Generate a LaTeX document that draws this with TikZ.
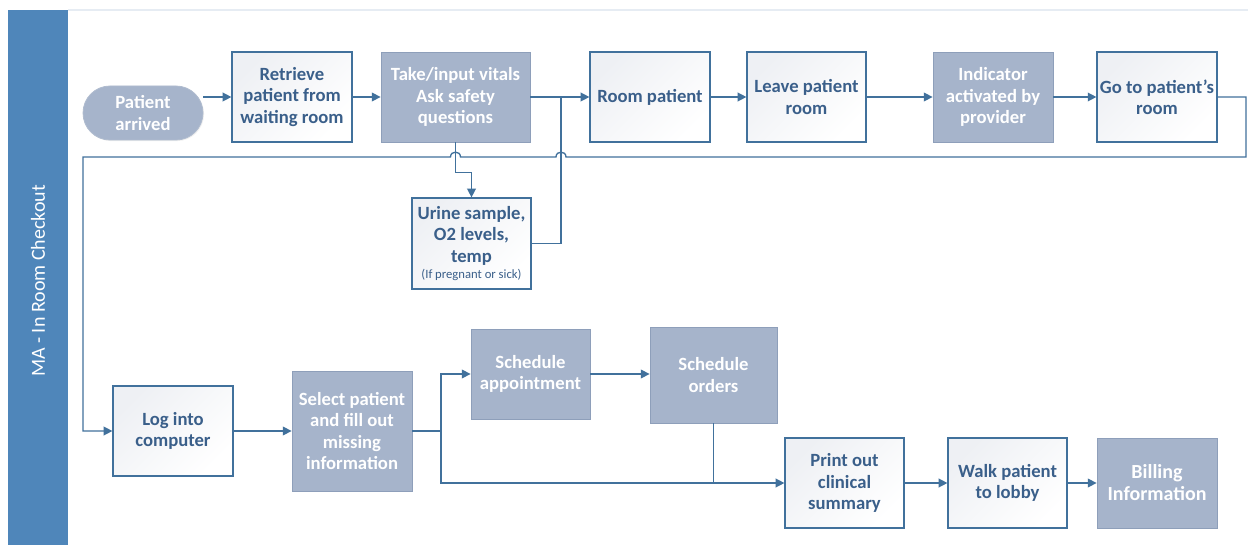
\documentclass[tikz,border=0pt]{standalone}
\usepackage{fontspec}
\setmainfont{Carlito}
\usetikzlibrary{arrows.meta,shapes.misc,shadows}

\definecolor{lanefill}{HTML}{4F86BA}
\definecolor{lanerule}{HTML}{E6ECF3}
\definecolor{stepgray}{HTML}{A6B4CB}
\definecolor{stepgrayedge}{HTML}{8E9FBA}
\definecolor{stepblue}{HTML}{41719C}
\definecolor{steptext}{HTML}{3A5F8A}
\definecolor{stepshade}{HTML}{EEF0F4}
\definecolor{flowline}{HTML}{41719C}

\tikzset{
  boxsize/.style 2 args={minimum width=#1*0.75pt, minimum height=#2*0.75pt},
  stepfont/.style={font=\fontsize{14}{16}\selectfont\bfseries},
  whitebox/.style={rectangle, draw=stepblue, line width=0.9pt, inner sep=0pt,
    left color=stepshade, right color=white, shading angle=45,
    text=steptext, align=center, stepfont},
  graybox/.style={rectangle, draw=stepgrayedge, line width=0.6pt, fill=stepgray,
    inner sep=0pt, text=white, align=center, stepfont,
    drop shadow={shadow xshift=0.8pt, shadow yshift=-0.8pt, opacity=0.12}},
  terminal/.style={rounded rectangle, draw=stepgrayedge!70, line width=0.6pt,
    fill=stepgray, inner sep=0pt, text=white, align=center, stepfont,
    drop shadow={shadow xshift=0.8pt, shadow yshift=-0.8pt, opacity=0.12}},
  link/.style={draw=flowline, line width=1pt},
  flow/.style={link, -{Triangle[length=6.5pt, width=6.5pt]}},
  lanelabel/.style={text=white, rotate=90, font=\fontsize{15}{17}\selectfont},
}

\begin{document}
\begin{tikzpicture}[x=0.75pt, y=-0.75pt]
\useasboundingbox (0,0) rectangle (1248,545);
\fill[white] (0,0) rectangle (1248,545);

% swimlane
\draw[lanerule, line width=1pt] (68,10) -- (1248,10);
\fill[lanefill] (8,10) rectangle (68,545);
\node[lanelabel] (lanetitle) at (38,281) {MA - In Room Checkout};

% upper row
\node[terminal, boxsize={120}{54}] (arrived) at (143,113) {Patient\\arrived};
\node[whitebox, boxsize={120}{90}] (retrieve) at (292,97) {Retrieve\\patient from\\waiting room};
\node[graybox, boxsize={149}{90}] (take) at (455.5,97) {Take/input vitals\\Ask safety\\questions};
\node[whitebox, boxsize={120}{90}] (room) at (650,97) {Room patient};
\node[whitebox, boxsize={119}{90}] (leave) at (806.5,97) {Leave patient\\room};
\node[graybox, boxsize={120}{90}] (indicator) at (993,97) {Indicator\\activated by\\provider};
\node[whitebox, boxsize={120}{90}] (go) at (1157,97) {Go to patient’s\\room};
\node[whitebox, boxsize={119}{91}] (urine) at (471.5,243.5)
  {Urine sample,\\O2 levels,\\temp\\[-4pt]{\fontsize{9.5}{11}\selectfont\mdseries (If pregnant or sick)}};

% lower row
\node[whitebox, boxsize={120}{90}] (login) at (173,431) {Log into\\computer};
\node[graybox, boxsize={120}{120}] (select) at (352,431) {Select patient\\and fill out\\missing\\information};
\node[graybox, boxsize={119}{90}] (appt) at (530.5,374) {Schedule\\appointment};
\node[graybox, boxsize={127}{96}] (orders) at (713.5,375) {Schedule\\orders};
\node[whitebox, boxsize={119}{90}] (print) at (844.5,483) {Print out\\clinical\\summary};
\node[whitebox, boxsize={119}{90}] (walk) at (1007.5,483) {Walk patient\\to lobby};
\node[graybox, boxsize={120}{90}, font=\fontsize{15}{16.5}\selectfont\bfseries] (billing) at (1157,483) {Billing\\Information};

% junction points
\coordinate (merge) at (561,97);
\coordinate (retR) at (1246,157);
\coordinate (retL) at (83,157);
\coordinate (split) at (441,431);

% upper connectors
\draw[flow] (arrived.east |- retrieve.west) -- (retrieve.west);
\draw[flow] (retrieve) -- (take);
\draw[flow] (take) -- (room);
\draw[flow] (take.south) -- ++(0,30) -| (urine.north);
\draw[link] (urine.east) -| (merge);
\draw[flow] (room) -- (leave);
\draw[flow] (leave) -- (indicator);
\draw[flow] (indicator) -- (go);

% return line to the lower row, hopping over the two vertical links
\draw[flow] (go.east) -| (retR)
  -- (566,157) .. controls (566,150.5) and (556,150.5) .. (556,157)
  -- (460.5,157) .. controls (460.5,150.5) and (450.5,150.5) .. (450.5,157)
  -- (retL) |- (login.west);

% lower connectors
\draw[flow] (login) -- (select);
\draw[link] (select.east |- split) -- (split);
\draw[flow] (split) |- (appt.west);
\draw[flow] (split) |- (print.west);
\draw[flow] (appt.east) -- (appt.east -| orders.west);
\draw[link] (orders.south) -- (orders.south |- print.west);
\draw[flow] (print) -- (walk);
\draw[flow] (walk) -- (billing);
\end{tikzpicture}
\end{document}
